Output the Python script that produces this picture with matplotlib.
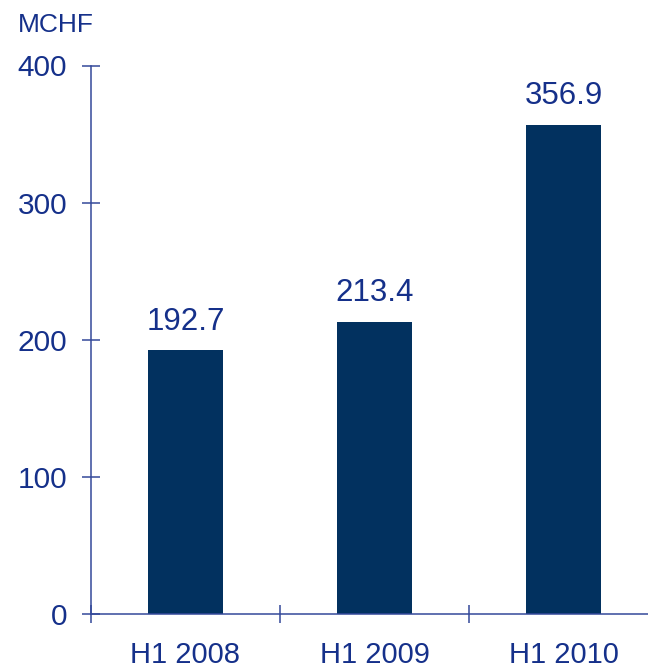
import matplotlib
matplotlib.use('Agg')
import matplotlib.pyplot as plt

# data
categories = ['H1 2008', 'H1 2009', 'H1 2010']
values = [192.7, 213.4, 356.9]
y_ticks = [0, 100, 200, 300, 400]
unit_label = 'MCHF'

BAR_COLOR = '#02315f'
TEXT_COLOR = '#15308a'
AXIS_COLOR = '#34499a'

plt.rcParams['font.family'] = ['Liberation Sans', 'DejaVu Sans']

fig = plt.figure(figsize=(6.48, 6.68), dpi=100)
ax = fig.add_axes([91 / 648, 53.7 / 668, 567 / 648, 548.8 / 668])

x = list(range(len(categories)))
ax.bar(x, values, width=0.40, color=BAR_COLOR, zorder=2)

for xi, v in zip(x, values):
    ax.annotate(f'{v:.1f}', (xi, v), xytext=(0, 9.5), textcoords='offset points',
                ha='center', va='bottom', fontsize=22.5, color=TEXT_COLOR)

ax.set_xlim(-0.5, len(categories) - 0.5)
ax.set_ylim(0, 400)

# category boundaries as major ticks, labels as minor ticks
ax.set_xticks([i - 0.5 for i in range(len(categories) + 1)])
ax.set_xticklabels([])
ax.set_xticks(x, minor=True)
ax.set_xticklabels(categories, minor=True)
ax.tick_params(axis='x', which='major', direction='inout', length=12.5, width=1.1,
               color=AXIS_COLOR)
ax.tick_params(axis='x', which='minor', length=0, pad=19, labelsize=21,
               labelcolor=TEXT_COLOR)

ax.set_yticks(y_ticks)
ax.tick_params(axis='y', direction='inout', length=13.5, width=1.1, color=AXIS_COLOR,
               pad=10.5, labelsize=21.5, labelcolor=TEXT_COLOR)

for side in ['top', 'right']:
    ax.spines[side].set_visible(False)
for side in ['left', 'bottom']:
    ax.spines[side].set_color(AXIS_COLOR)
    ax.spines[side].set_linewidth(1.1)

fig.text(18 / 648, 1 - 32 / 668, unit_label, fontsize=19, color=TEXT_COLOR,
         ha='left', va='baseline')

fig.savefig('out.png', dpi=100)
